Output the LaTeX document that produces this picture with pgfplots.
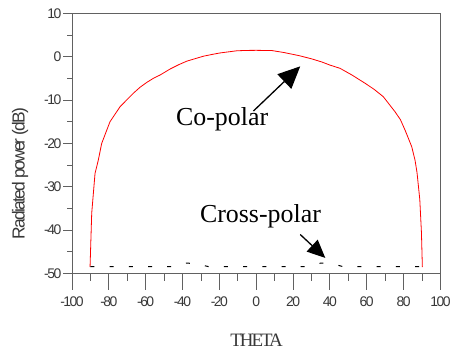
\documentclass[border=0pt]{standalone}
\usepackage{fontspec}
\setmainfont{Liberation Serif}
\newfontfamily\tickf[LetterSpace=-11]{Liberation Sans}
\newfontfamily\labf[LetterSpace=-10]{Liberation Sans}
\newfontfamily\thetaf[LetterSpace=-11]{Liberation Serif}
\usepackage{pgfplots}
\pgfplotsset{compat=1.18}
\usetikzlibrary{arrows.meta}
\definecolor{frame}{gray}{0.38}
\definecolor{txt}{gray}{0.22}
\begin{document}
\begin{tikzpicture}[x=1bp,y=1bp]
\path[use as bounding box] (0,0) rectangle (457,356);
% x ticks axis
\begin{axis}[at={(72bp,82.5bp)}, anchor=south west, scale only axis,
  width=368.4bp, height=260bp, xmin=-100, xmax=100, ymin=-50, ymax=10,
  axis line style={draw=none},
  ytick=\empty,
  xtick={-100,-80,...,100},
  xticklabels={-100,-80,-60,-40,-20,0,20,40,60,80,100},
  minor xtick={-90,-70,...,90},
  tick align=outside, xtick pos=bottom,
  major tick length=16bp, minor tick length=7bp,
  tick style={frame, line width=0.8bp},
  xticklabel style={font=\tickf\fontsize{14}{14}\selectfont, text=txt, inner sep=0pt, yshift=-7.5bp},
]
\end{axis}
% main axis
\begin{axis}[at={(72bp,82.5bp)}, anchor=south west, scale only axis,
  width=368.4bp, height=260bp, xmin=-100, xmax=100, ymin=-50, ymax=10,
  axis line style={frame, line width=0.8bp},
  xtick=\empty,
  ytick={-50,-40,...,10},
  yticklabels={-50,-40,-30,-20,-10,0,10},
  minor ytick={-45,-35,...,5},
  tick align=outside, ytick pos=left,
  major tick length=9bp, minor tick length=5bp,
  tick style={frame, line width=0.8bp},
  yticklabel style={font=\tickf\fontsize{14}{14}\selectfont, text=txt, inner sep=0pt, xshift=-1.5bp},
  xlabel={THETA},
  xlabel style={at={(axis description cs:0.501,-0.256)}, anchor=center, font=\thetaf\fontsize{19}{19}\selectfont, text=txt},
  ylabel={Radiated power (dB)},
  ylabel style={at={(axis description cs:-0.141,0.385)}, anchor=center, font=\labf\fontsize{17.5}{17.5}\selectfont, text=txt},
  clip=false,
]
\addplot[red, line width=0.8bp] coordinates {(-90.2,-48.5) (-89.3,-36.1) (-87.5,-26.9) (-85.7,-23.8) (-83.9,-20.0) (-79.4,-15.0) (-73.9,-11.5) (-66.7,-8.4) (-63,-7.0) (-59.4,-5.9) (-55.8,-4.95) (-52.2,-4.2) (-46.7,-2.8) (-42,-1.8) (-37.7,-1.0) (-33,-0.4) (-28.6,0.15) (-24,0.55) (-19.6,0.9) (-15,1.15) (-10.5,1.4) (-5,1.48) (0,1.5) (8.5,1.45) (15,1.0) (23,0.3) (30,-0.45) (35.7,-1.2) (40,-1.9) (45.5,-2.65) (52,-4.2) (59.1,-6.1) (64,-7.5) (69.0,-9.2) (75.4,-12.7) (78.3,-14.5) (80.8,-16.9) (84.4,-20.7) (86.2,-23.8) (87.3,-26.7) (88.8,-32.9) (89.7,-40.5) (90.2,-48.5)};
\addplot[black, line width=1bp, dash pattern=on 4bp off 15.2bp] coordinates {(-90,-48.4) (-44,-48.4) (-38,-47.6) (-33,-47.7) (-26,-48.4) (28,-48.4) (35,-47.6) (41,-47.7) (47,-48.4) (90,-48.4)};
\draw[black, line width=1.3bp, -{Triangle[length=22bp,width=20bp]}] (axis cs:-1.5,-12.5) -- (axis cs:23.9,-2.2);
\draw[black, line width=1.3bp, -{Triangle[length=18bp,width=16bp]}] (axis cs:23.9,-41) -- (axis cs:37.5,-46.4);
\node[anchor=base west, inner sep=0pt, font=\fontsize{26}{26}\selectfont] at (axis cs:-43.6,-15.8) {Co-polar};
\node[anchor=base west, inner sep=0pt, font=\fontsize{26}{26}\selectfont] at (axis cs:-30.6,-38.2) {Cross-polar};
\end{axis}
\end{tikzpicture}
\end{document}
